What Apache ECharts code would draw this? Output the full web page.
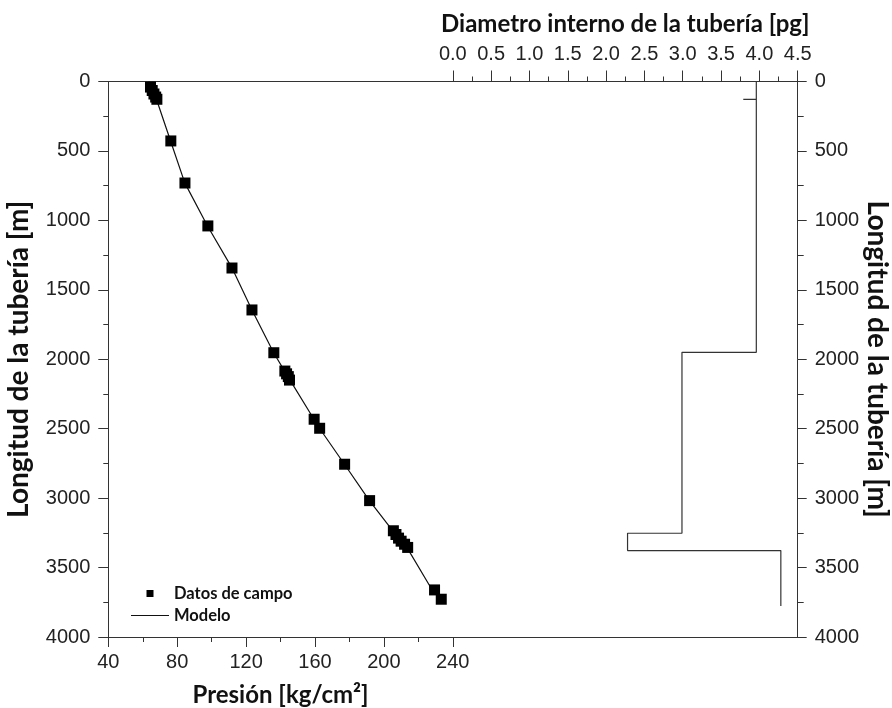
<!DOCTYPE html>
<html>
<head>
<meta charset="utf-8">
<script src="https://cdn.jsdelivr.net/npm/echarts@6/dist/echarts.min.js"></script>
<style>html,body{margin:0;padding:0;background:#fff;}#c{width:892px;height:708px;}</style>
</head>
<body>
<div id="c"></div>
<script>
// Field data: pressure [kg/cm2] vs depth [m]
const fieldPressure = [64.5, 65.5, 66.5, 67.5, 68.2, 76.3, 84.5, 97.8, 111.8, 123.4, 136.1, 142.5, 143.5, 144.5, 145.2, 159.5, 162.7, 177.2, 191.7, 205.5, 207.0, 208.5, 210.0, 212.0, 213.8, 229.4, 233.3];
const fieldDepth    = [40, 65, 90, 112, 128, 428, 731, 1040, 1343, 1645, 1953, 2085, 2105, 2125, 2150, 2432, 2497, 2756, 3018, 3235, 3262, 3288, 3310, 3332, 3355, 3661, 3728];
// Model curve
const modelPressure = [63.5, 68.0, 76.2, 84.4, 97.6, 111.7, 123.4, 136.0, 144.0, 159.4, 162.6, 177.1, 191.6, 205.4, 213.6, 227.0];
const modelDepth    = [0, 130, 430, 730, 1040, 1340, 1645, 1953, 2120, 2432, 2497, 2756, 3018, 3240, 3360, 3640];
// Internal diameter [pg] vs depth [m]
const diameter      = [3.96, 3.96, 3.79, 3.96, 3.96, 2.99, 2.99, 2.28, 2.28, 4.28, 4.28];
const diameterDepth = [0, 128, 128, 128, 1950, 1950, 3253, 3253, 3378, 3378, 3776];
// Tick settings
const pressureTicks = {min: 40, max: 240, interval: 40};
const diameterTicks = {min: 0, max: 4.5, interval: 0.5};
const depthTicks = {min: 0, max: 4000, interval: 500};

const zip = (a, b) => a.map((v, i) => [v, b[i]]);

const axisColor = '#333';
const labelFont = {fontFamily: '"Liberation Sans", Arial, sans-serif', fontSize: 20, color: '#222'};
const nameFont = {fontFamily: 'Lato', fontWeight: 'bold', fontSize: 24, color: '#111'};
const vNameFont = {fontFamily: 'Lato', fontWeight: 'bold', fontSize: 28, color: '#111'};
const lineStyle = {color: axisColor, width: 1};
const plain = v => String(v);

const chart = echarts.init(document.getElementById('c'), null, {renderer: 'canvas'});
const gTop = 81.5, gBottom = 708 - 637;
chart.setOption({
  backgroundColor: '#fff',
  animation: false,
  grid: [
    {left: 108.3, top: gTop, width: 344.5, bottom: gBottom, containLabel: false, outerBoundsMode: 'none'},
    {left: 452.8, top: gTop, width: 344.9, bottom: gBottom, containLabel: false, outerBoundsMode: 'none'}
  ],
  legend: {
    orient: 'vertical', left: 126, top: 580, itemWidth: 38, itemHeight: 7, itemGap: 5,
    textStyle: {fontFamily: 'Lato', fontWeight: 'bold', fontSize: 16.5, color: '#111'},
    data: [
      {name: 'Datos de campo', icon: 'path://M0,0H10V10H0Z', itemStyle: {color: '#000', opacity: 1}},
      {name: 'Modelo', icon: 'path://M0,0H38V1H0Z', itemStyle: {color: '#111'}}
    ]
  },
  xAxis: [
    {gridIndex: 0, position: 'bottom', type: 'value', min: pressureTicks.min, max: pressureTicks.max, interval: pressureTicks.interval,
     name: 'Presión [kg/cm²]', nameLocation: 'middle', nameGap: 46, nameTextStyle: nameFont,
     axisLine: {onZero: false, lineStyle}, axisTick: {show: true, length: 10, lineStyle},
     minorTick: {show: true, splitNumber: 2, length: 5, lineStyle},
     axisLabel: Object.assign({margin: 15, formatter: plain}, labelFont), splitLine: {show: false}},
    {gridIndex: 0, position: 'top', type: 'value', min: pressureTicks.min, max: pressureTicks.max,
     axisLine: {onZero: false, lineStyle}, axisTick: {show: false}, axisLabel: {show: false}, splitLine: {show: false}},
    {gridIndex: 1, position: 'top', type: 'value', min: diameterTicks.min, max: diameterTicks.max, interval: diameterTicks.interval,
     name: 'Diametro interno de la tubería [pg]', nameLocation: 'middle', nameGap: 45, nameTextStyle: nameFont,
     axisLine: {onZero: false, lineStyle}, axisTick: {show: true, length: 11, lineStyle},
     minorTick: {show: true, splitNumber: 2, length: 5, lineStyle},
     axisLabel: Object.assign({margin: 17, formatter: v => v.toFixed(1)}, labelFont), splitLine: {show: false}},
    {gridIndex: 1, position: 'bottom', type: 'value', min: diameterTicks.min, max: diameterTicks.max,
     axisLine: {onZero: false, lineStyle}, axisTick: {show: false}, axisLabel: {show: false}, splitLine: {show: false}}
  ],
  yAxis: [
    {gridIndex: 0, position: 'left', type: 'value', inverse: true, min: depthTicks.min, max: depthTicks.max, interval: depthTicks.interval,
     name: 'Longitud de la tubería [m]', nameLocation: 'middle', nameGap: 75, nameTextStyle: vNameFont,
     axisLine: {show: true, onZero: false, lineStyle}, axisTick: {show: true, length: 10, lineStyle},
     minorTick: {show: true, splitNumber: 2, length: 5, lineStyle},
     axisLabel: Object.assign({margin: 18, formatter: plain}, labelFont), splitLine: {show: false}},
    {gridIndex: 1, position: 'right', type: 'value', inverse: true, min: depthTicks.min, max: depthTicks.max, interval: depthTicks.interval,
     name: 'Longitud de la tubería [m]', nameLocation: 'middle', nameGap: 62, nameRotate: -90, nameTextStyle: vNameFont,
     axisLine: {show: true, onZero: false, lineStyle}, axisTick: {show: true, length: 9, lineStyle},
     minorTick: {show: true, splitNumber: 2, length: 6, lineStyle},
     axisLabel: Object.assign({margin: 17, formatter: plain}, labelFont), splitLine: {show: false}}
  ],
  series: [
    {name: 'Modelo', type: 'line', xAxisIndex: 0, yAxisIndex: 0, data: zip(modelPressure, modelDepth),
     showSymbol: false, symbol: 'none', lineStyle: {color: '#111', width: 1.2}, itemStyle: {color: '#111'}, z: 2},
    {name: 'Datos de campo', type: 'scatter', xAxisIndex: 0, yAxisIndex: 0, data: zip(fieldPressure, fieldDepth),
     symbol: 'rect', symbolSize: 11, itemStyle: {color: '#000', opacity: 1}, z: 3, clip: false},
    {name: 'Diametro', type: 'line', xAxisIndex: 2, yAxisIndex: 1, data: zip(diameter, diameterDepth),
     showSymbol: false, symbol: 'none', lineStyle: {color: '#333', width: 1.2}, z: 2}
  ]
});
</script>
</body>
</html>
